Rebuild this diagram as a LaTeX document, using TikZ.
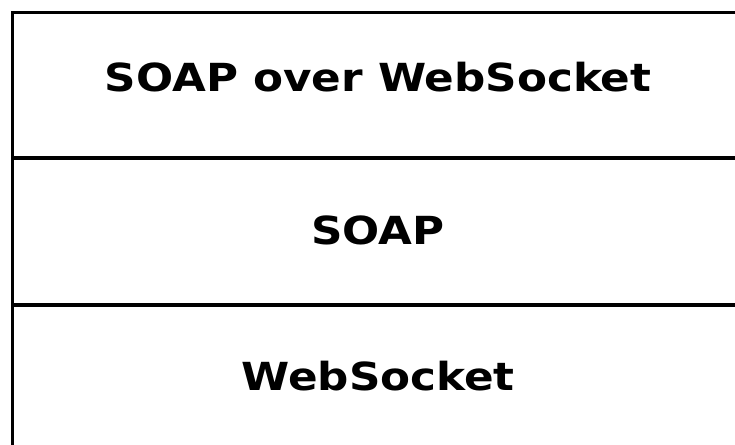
\documentclass[tikz,border=0pt]{standalone}
\usepackage{fontspec}
\setmainfont[FakeStretch=1.13]{DejaVu Sans}
\usetikzlibrary{positioning}

\begin{document}
\begin{tikzpicture}[x=0.75pt,y=-0.75pt,
	layer/.style={draw,line width=2.8pt,rectangle,inner sep=0pt,
		minimum width=731.5*0.75pt,minimum height=147*0.75pt},
	layertext/.style={font=\fontsize{29}{34}\selectfont\bfseries,inner sep=0pt},
	node distance=0pt
	]
	\useasboundingbox (0,0) rectangle (735,444);
	\clip (0,0) rectangle (735,444);
	
	% the protocol stack
	\node[layer,minimum height=145.5*0.75pt,anchor=north west] (top) at (10.5,10.5) {};
	\node[layer,below=-2.8pt of top] (mid) {};
	\node[layer,below=-2.8pt of mid] (bot) {};
	
	% layer names
	\node[layertext] (toptext) at ([yshift=6pt]top.center) {SOAP over WebSocket};
	\node[layertext] (midtext) at ([yshift=1pt]mid.center) {SOAP};
	\node[layertext] (bottext) at ([yshift=2pt]bot.center) {WebSocket};
\end{tikzpicture}
\end{document}
